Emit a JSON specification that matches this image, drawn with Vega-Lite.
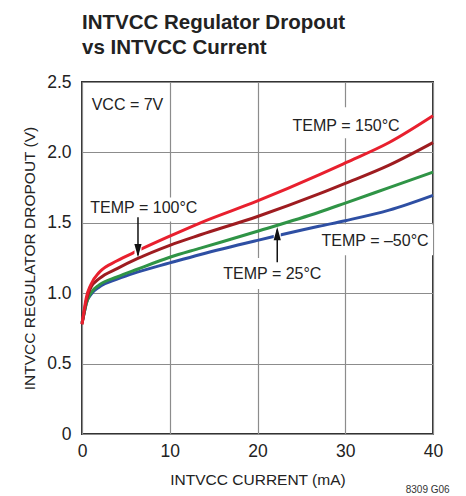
{
  "$schema": "https://vega.github.io/schema/vega-lite/v6.json",
  "width": 351,
  "height": 352,
  "autosize": "none",
  "padding": {"left": 82, "top": 82, "right": 33, "bottom": 62},
  "background": "white",
  "config": {
    "font": "Liberation Sans, sans-serif",
    "view": {"stroke": "#333333", "strokeWidth": 2},
    "axis": {
      "grid": true,
      "gridColor": "#8c8c8c",
      "gridWidth": 1.2,
      "domain": false,
      "ticks": false,
      "labelFont": "Liberation Sans, sans-serif",
      "labelFontSize": 17.5,
      "labelColor": "#222222",
      "labelFlush": false,
      "labelOverlap": false,
      "titleFont": "Liberation Sans, sans-serif",
      "titleFontSize": 15.5,
      "titleFontWeight": "normal",
      "titleColor": "#222222"
    }
  },
  "title": {
    "text": ["INTVCC Regulator Dropout", "vs INTVCC Current"],
    "anchor": "start",
    "frame": "group",
    "font": "Liberation Sans, sans-serif",
    "fontSize": 20.5,
    "fontWeight": "bold",
    "lineHeight": 25,
    "offset": 15,
    "color": "#222222"
  },
  "datasets": {
    "curves": [
      {"temp": "-50", "x": 0, "y": 0.79}, {"temp": "-50", "x": 0.25, "y": 0.86}, {"temp": "-50", "x": 0.5, "y": 0.93}, {"temp": "-50", "x": 1, "y": 0.99}, {"temp": "-50", "x": 2, "y": 1.045}, {"temp": "-50", "x": 4, "y": 1.1}, {"temp": "-50", "x": 6.3, "y": 1.15}, {"temp": "-50", "x": 10, "y": 1.215}, {"temp": "-50", "x": 13.5, "y": 1.275}, {"temp": "-50", "x": 20, "y": 1.375}, {"temp": "-50", "x": 27, "y": 1.475}, {"temp": "-50", "x": 30, "y": 1.515}, {"temp": "-50", "x": 35, "y": 1.59}, {"temp": "-50", "x": 40, "y": 1.695},
      {"temp": "25", "x": 0, "y": 0.79}, {"temp": "25", "x": 0.25, "y": 0.86}, {"temp": "25", "x": 0.5, "y": 0.93}, {"temp": "25", "x": 1, "y": 1.0}, {"temp": "25", "x": 2, "y": 1.06}, {"temp": "25", "x": 4, "y": 1.115}, {"temp": "25", "x": 6.3, "y": 1.17}, {"temp": "25", "x": 10, "y": 1.255}, {"temp": "25", "x": 13.5, "y": 1.32}, {"temp": "25", "x": 20, "y": 1.44}, {"temp": "25", "x": 27, "y": 1.575}, {"temp": "25", "x": 30, "y": 1.64}, {"temp": "25", "x": 35, "y": 1.75}, {"temp": "25", "x": 40, "y": 1.86},
      {"temp": "100", "x": 0, "y": 0.78}, {"temp": "100", "x": 0.25, "y": 0.87}, {"temp": "100", "x": 0.5, "y": 0.95}, {"temp": "100", "x": 1, "y": 1.04}, {"temp": "100", "x": 2, "y": 1.105}, {"temp": "100", "x": 4, "y": 1.175}, {"temp": "100", "x": 6.3, "y": 1.245}, {"temp": "100", "x": 10, "y": 1.34}, {"temp": "100", "x": 13.5, "y": 1.415}, {"temp": "100", "x": 20, "y": 1.545}, {"temp": "100", "x": 27, "y": 1.705}, {"temp": "100", "x": 30, "y": 1.78}, {"temp": "100", "x": 35, "y": 1.91}, {"temp": "100", "x": 40, "y": 2.07},
      {"temp": "150", "x": 0, "y": 0.78}, {"temp": "150", "x": 0.25, "y": 0.88}, {"temp": "150", "x": 0.5, "y": 0.97}, {"temp": "150", "x": 1, "y": 1.06}, {"temp": "150", "x": 2, "y": 1.15}, {"temp": "150", "x": 4, "y": 1.23}, {"temp": "150", "x": 6.3, "y": 1.3}, {"temp": "150", "x": 10, "y": 1.405}, {"temp": "150", "x": 13.5, "y": 1.5}, {"temp": "150", "x": 20, "y": 1.655}, {"temp": "150", "x": 27, "y": 1.84}, {"temp": "150", "x": 30, "y": 1.925}, {"temp": "150", "x": 35, "y": 2.07}, {"temp": "150", "x": 40, "y": 2.26}
    ],
    "boxes": [
      {"x": 0.8, "x2": 13.3, "y": 1.51, "y2": 1.68},
      {"x": 15.5, "x2": 27.3, "y": 1.03, "y2": 1.25},
      {"x": 27, "x2": 40, "y": 1.27, "y2": 1.49},
      {"x": 23.5, "x2": 36, "y": 2.1, "y2": 2.32}
    ],
    "halos": [
      {"x": 6.38, "y": 1.27, "y2": 1.33},
      {"x": 22.25, "y": 1.39, "y2": 1.435}
    ],
    "arrows": [
      {"x": 6.38, "y": 1.54, "y2": 1.27},
      {"x": 22.25, "y": 1.22, "y2": 1.45}
    ],
    "heads": [
      {"x": 6.38, "y": 1.256, "dir": "down"},
      {"x": 22.25, "y": 1.47, "dir": "up"}
    ],
    "labels": [
      {"x": 1.1, "y": 2.3, "text": "VCC = 7V"},
      {"x": 24.0, "y": 2.15, "text": "TEMP = 150°C"},
      {"x": 0.95, "y": 1.567, "text": "TEMP = 100°C"},
      {"x": 27.3, "y": 1.334, "text": "TEMP = –50°C"},
      {"x": 16.1, "y": 1.102, "text": "TEMP = 25°C"}
    ],
    "code": [
      {"x": 41.9, "y": -0.417, "text": "8309 G06"}
    ]
  },
  "encoding": {
    "x": {
      "field": "x",
      "type": "quantitative",
      "scale": {"domain": [0, 40], "nice": false, "zero": false},
      "axis": {"values": [0, 10, 20, 30, 40], "title": "INTVCC CURRENT (mA)", "labelPadding": 8, "titlePadding": 13}
    },
    "y": {
      "field": "y",
      "type": "quantitative",
      "scale": {"domain": [0, 2.5], "nice": false, "zero": false},
      "axis": {"values": [0, 0.5, 1, 1.5, 2, 2.5], "labelExpr": "datum.value == 0 ? '0' : format(datum.value, '.1f')", "title": "INTVCC REGULATOR DROPOUT (V)", "labelPadding": 11, "titlePadding": 9}
    }
  },
  "layer": [
    {
      "data": {"name": "boxes"},
      "mark": {"type": "rect", "fill": "white", "stroke": null},
      "encoding": {"x2": {"field": "x2"}, "y2": {"field": "y2"}}
    },
    {
      "data": {"name": "curves"},
      "mark": {"type": "line", "strokeWidth": 3, "interpolate": "monotone"},
      "encoding": {
        "color": {
          "field": "temp",
          "type": "nominal",
          "scale": {"domain": ["-50", "25", "100", "150"], "range": ["#2e4fa3", "#2f9446", "#9e1c20", "#e8202e"]},
          "legend": null
        }
      }
    },
    {
      "data": {"name": "halos"},
      "mark": {"type": "rule", "color": "white", "strokeWidth": 7},
      "encoding": {"y2": {"field": "y2"}}
    },
    {
      "data": {"name": "arrows"},
      "mark": {"type": "rule", "color": "#111111", "strokeWidth": 1.5},
      "encoding": {"y2": {"field": "y2"}}
    },
    {
      "data": {"name": "heads"},
      "mark": {"type": "point", "filled": true, "opacity": 1, "color": "#111111", "size": 144},
      "encoding": {
        "shape": {
          "field": "dir",
          "type": "nominal",
          "scale": {"domain": ["down", "up"], "range": ["M-0.6,-2.2L0.6,-2.2L0,0Z", "M-0.6,2.2L0.6,2.2L0,0Z"]},
          "legend": null
        }
      }
    },
    {
      "data": {"name": "labels"},
      "mark": {"type": "text", "align": "left", "baseline": "alphabetic", "fontSize": 16, "color": "#222222", "font": "Liberation Sans, sans-serif"},
      "encoding": {"text": {"field": "text"}}
    },
    {
      "data": {"name": "code"},
      "mark": {"type": "text", "align": "right", "baseline": "alphabetic", "fontSize": 10, "color": "#333333", "font": "Liberation Sans, sans-serif"},
      "encoding": {"text": {"field": "text"}}
    }
  ]
}
